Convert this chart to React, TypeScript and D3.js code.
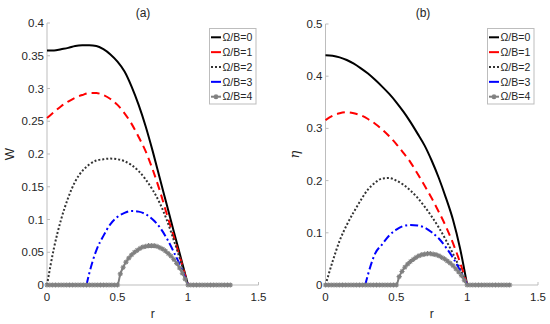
import React from "react";
import * as d3 from "d3";

// ---------- data ----------
const rGrid = [0, 0.05, 0.1, 0.15, 0.2, 0.25, 0.3, 0.35, 0.4, 0.45, 0.5, 0.55, 0.6, 0.65, 0.7, 0.75, 0.8, 0.85, 0.9, 0.95, 1.0];

const W0 = [0.358, 0.358, 0.36, 0.362, 0.365, 0.366, 0.366, 0.365, 0.36, 0.352, 0.341, 0.326, 0.303, 0.275, 0.242, 0.204, 0.163, 0.122, 0.081, 0.041, 0];
const W1 = [0.255, 0.264, 0.273, 0.28, 0.286, 0.29, 0.293, 0.293, 0.29, 0.284, 0.275, 0.262, 0.246, 0.226, 0.204, 0.176, 0.144, 0.108, 0.073, 0.037, 0];
const W2 = [0, 0.057, 0.1, 0.133, 0.158, 0.174, 0.184, 0.19, 0.192, 0.193, 0.192, 0.189, 0.183, 0.174, 0.161, 0.145, 0.125, 0.099, 0.068, 0.035, 0];
const rBlue = [0.28, 0.3, 0.35, 0.4, 0.45, 0.5, 0.55, 0.6, 0.65, 0.7, 0.75, 0.8, 0.85, 0.9, 0.95, 1.0];
const W3 = [0, 0.018, 0.053, 0.075, 0.093, 0.104, 0.11, 0.113, 0.112, 0.108, 0.1, 0.088, 0.071, 0.05, 0.027, 0];

const E0 = [0.44, 0.439, 0.436, 0.431, 0.424, 0.415, 0.405, 0.393, 0.38, 0.366, 0.35, 0.332, 0.312, 0.29, 0.267, 0.238, 0.205, 0.167, 0.125, 0.07, 0];
const E1 = [0.316, 0.324, 0.329, 0.331, 0.329, 0.325, 0.318, 0.309, 0.298, 0.285, 0.27, 0.253, 0.235, 0.213, 0.19, 0.166, 0.14, 0.112, 0.08, 0.043, 0];
const E2 = [0, 0.045, 0.085, 0.115, 0.14, 0.163, 0.183, 0.196, 0.204, 0.205, 0.2, 0.192, 0.181, 0.167, 0.15, 0.131, 0.11, 0.086, 0.06, 0.031, 0];
const E3 = [0, 0.02, 0.06, 0.078, 0.095, 0.106, 0.113, 0.115, 0.114, 0.11, 0.101, 0.089, 0.072, 0.052, 0.028, 0];

// gray series (with markers), r = 0 .. 1.3 step 0.02
const W4 = [
  0, 0, 0, 0, 0, 0, 0, 0, 0, 0, 0, 0, 0, 0, 0, 0, 0, 0, 0, 0, 0, 0, 0, 0, 0,
  0, 0.017, 0.027, 0.035, 0.041, 0.046, 0.05, 0.053, 0.056, 0.058, 0.059, 0.06, 0.06, 0.06, 0.059, 0.057,
  0.055, 0.052, 0.048, 0.044, 0.039, 0.033, 0.026, 0.018, 0.009, 0,
  0, 0, 0, 0, 0, 0, 0, 0, 0, 0, 0, 0, 0, 0, 0,
];
const E4 = [
  0, 0, 0, 0, 0, 0, 0, 0, 0, 0, 0, 0, 0, 0, 0, 0, 0, 0, 0, 0, 0, 0, 0, 0, 0,
  0, 0.016, 0.026, 0.034, 0.04, 0.045, 0.049, 0.053, 0.056, 0.058, 0.059, 0.06, 0.06, 0.059, 0.058, 0.056,
  0.053, 0.05, 0.046, 0.042, 0.037, 0.031, 0.025, 0.018, 0.009, 0,
  0, 0, 0, 0, 0, 0, 0, 0, 0, 0, 0, 0, 0, 0, 0,
];
const rGray = d3.range(66).map((i) => i * 0.02);

const legendLabels = ["Ω/B=0", "Ω/B=1", "Ω/B=2", "Ω/B=3", "Ω/B=4"];
const xTicks = [0, 0.5, 1, 1.5];
const xTickLabels = ["0", "0.5", "1", "1.5"];
const yTicksA = [0, 0.05, 0.1, 0.15, 0.2, 0.25, 0.3, 0.35, 0.4];
const yTickLabelsA = ["0", "0.05", "0.1", "0.15", "0.2", "0.25", "0.3", "0.35", "0.4"];
const yTicksB = [0, 0.1, 0.2, 0.3, 0.4, 0.5];
const yTickLabelsB = ["0", "0.1", "0.2", "0.3", "0.4", "0.5"];

// ---------- styles ----------
const styles = [
  { color: "#000000", dash: "none" },
  { color: "#ff0000", dash: "8,5" },
  { color: "#333333", dash: "2,2" },
  { color: "#0000ff", dash: "8,3,2,3" },
  { color: "#808080", dash: "none" },
];
const textColor = "#262626";
const axisColor = "#bdbdbd";
const font = "'Liberation Sans', Arial, sans-serif";

const star = "M-2.6,0H2.6M0,-2.6V2.6M-1.8,-1.8L1.8,1.8M-1.8,1.8L1.8,-1.8";

type Panel = {
  x0: number; x1: number; yTop: number; yBot: number; yMax: number;
  yTicks: number[]; yLabels: string[]; title: string; titleX: number;
  ylabel: string; ylabelX: number; italic: boolean;
  series: { r: number[]; v: number[] }[];
  legendX: number; legendW: number;
};

function PanelView({ p }: { p: Panel }) {
  const x = d3.scaleLinear().domain([0, 1.5]).range([p.x0, p.x1]);
  const y = d3.scaleLinear().domain([0, p.yMax]).range([p.yBot, p.yTop]);
  const line = d3
    .line<[number, number]>()
    .x((d) => x(d[0]))
    .y((d) => y(d[1]))
    .curve(d3.curveMonotoneX);
  const xMid = (p.x0 + p.x1) / 2;
  return (
    <g>
      {/* axes */}
      <line x1={p.x0} x2={p.x0} y1={p.yBot} y2={p.yTop} stroke={axisColor} strokeWidth={1} />
      <line x1={p.x0} x2={p.x1} y1={p.yBot} y2={p.yBot} stroke={axisColor} strokeWidth={1} />
      {p.yTicks.map((t, i) => (
        <g key={"yt" + i}>
          <line x1={p.x0} x2={p.x0 + 3} y1={y(t)} y2={y(t)} stroke={axisColor} />
          <text x={p.x0 - 3} y={y(t)} dy="0.35em" textAnchor="end" fontSize={11.5} fill={textColor} fontFamily={font}>
            {p.yLabels[i]}
          </text>
        </g>
      ))}
      {xTicks.map((t, i) => (
        <g key={"xt" + i}>
          <line x1={x(t)} x2={x(t)} y1={p.yBot} y2={p.yBot - 3} stroke={axisColor} />
          <text x={x(t)} y={p.yBot + 16} textAnchor="middle" fontSize={11.5} fill={textColor} fontFamily={font}>
            {xTickLabels[i]}
          </text>
        </g>
      ))}
      <text x={xMid} y={318} textAnchor="middle" fontSize={12} fill={textColor} fontFamily={font}>r</text>
      <text
        transform={`translate(${p.ylabelX},${(p.yTop + p.yBot) / 2}) rotate(-90)`}
        textAnchor="middle"
        fontSize={13}
        fontStyle={p.italic ? "italic" : "normal"}
        fill={textColor}
        fontFamily={p.italic ? "'DejaVu Serif', serif" : font}
      >
        {p.ylabel}
      </text>
      <text x={p.titleX} y={17} textAnchor="middle" fontSize={12} fill={textColor} fontFamily={font}>{p.title}</text>

      {/* series */}
      {p.series.map((s, k) => {
        const pts: [number, number][] = s.r.map((r, i) => [r, s.v[i]]);
        return (
          <g key={"s" + k}>
            <path d={line(pts) || ""} fill="none" stroke={styles[k].color} strokeWidth={2} strokeDasharray={styles[k].dash} />
            {k === 4 &&
              pts.map((d, i) => (
                <path key={i} d={star} transform={`translate(${x(d[0])},${y(d[1])})`} fill="none" stroke={styles[k].color} strokeWidth={1.1} />
              ))}
          </g>
        );
      })}

      {/* legend */}
      <rect x={p.legendX} y={28.5} width={p.legendW} height={75.5} fill="#ffffff" stroke={axisColor} />
      {legendLabels.map((lab, i) => {
        const ly = 37.3 + i * 14.85;
        const lx = p.legendX + 1.5;
        return (
          <g key={"lg" + i}>
            <line x1={lx} x2={lx + 10} y1={ly} y2={ly} stroke={styles[i].color} strokeWidth={2} strokeDasharray={i === 2 ? "2,2" : "none"} />
            {i === 4 && <path d={star} transform={`translate(${lx + 5},${ly})`} fill="none" stroke={styles[i].color} strokeWidth={1.1} />}
            <text x={lx + 11.5} y={ly} dy="0.35em" fontSize={10.5} fill={textColor} fontFamily={font}>{lab}</text>
          </g>
        );
      })}
    </g>
  );
}

export default function App() {
  const panelA: Panel = {
    x0: 47, x1: 258.5, yTop: 23, yBot: 285, yMax: 0.4,
    yTicks: yTicksA, yLabels: yTickLabelsA, title: "(a)", titleX: 143,
    ylabel: "W", ylabelX: 14, italic: false,
    series: [
      { r: rGrid, v: W0 },
      { r: rGrid, v: W1 },
      { r: rGrid, v: W2 },
      { r: rBlue, v: W3 },
      { r: rGray, v: W4 },
    ],
    legendX: 209.5, legendW: 46.5,
  };
  const panelB: Panel = {
    x0: 325.5, x1: 538, yTop: 24, yBot: 285, yMax: 0.5,
    yTicks: yTicksB, yLabels: yTickLabelsB, title: "(b)", titleX: 423,
    ylabel: "η", ylabelX: 299, italic: true,
    series: [
      { r: rGrid, v: E0 },
      { r: rGrid, v: E1 },
      { r: rGrid, v: E2 },
      { r: rBlue, v: E3 },
      { r: rGray, v: E4 },
    ],
    legendX: 487.5, legendW: 46.5,
  };
  return (
    <svg width={550} height={324} style={{ position: "absolute", left: 0, top: 0, background: "#fff" }}>
      <PanelView p={panelA} />
      <PanelView p={panelB} />
    </svg>
  );
}
